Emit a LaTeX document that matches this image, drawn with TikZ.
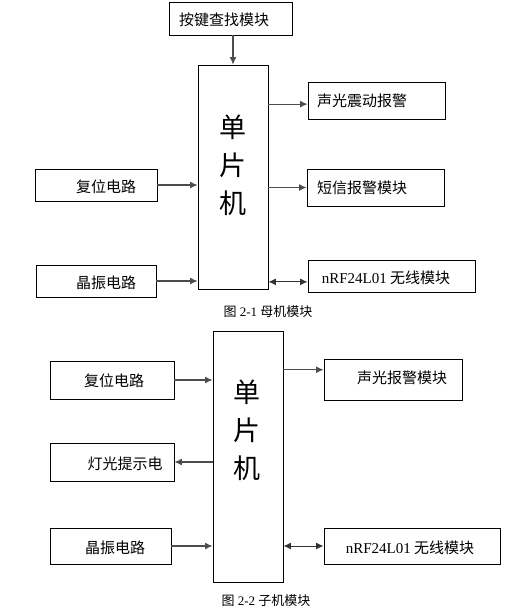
\documentclass[tikz,border=0pt]{standalone}
\usepackage{tikz}
\usepackage{xcolor}
\usepackage{fontspec}
\setmainfont{Liberation Serif}
\newfontfamily\cjk{Noto Sans CJK SC}
\usetikzlibrary{arrows.meta}

\tikzset{
  blk/.style={draw, line width=0.9pt, inner sep=0pt},
  txt/.style={inner sep=0pt, font=\fontsize{15}{18}\selectfont\cjk},
  mcutxt/.style={inner sep=0pt, align=center, font=\fontsize{27}{38}\selectfont\cjk},
  figcap/.style={inner sep=0pt, font=\fontsize{13}{15}\selectfont},
  arr/.style={draw=black!70, line width=1.2pt, -{Latex[length=7.5pt,width=7pt]}},
  darr/.style={draw=black!80, line width=1pt, {Latex[length=7.5pt,width=7pt]}-{Latex[length=7.5pt,width=7pt]}}
}

\begin{document}
\begin{tikzpicture}[x=1pt, y=-1pt]
  % Fix the page size
  \useasboundingbox (0,0) rectangle (528,616);

  % Draw the blocks of the main unit
  \node[blk, minimum width=123pt, minimum height=33pt] (keyA) at (230.5,18.5) {};
  \node[blk, minimum width=70pt, minimum height=224pt] (mcuA) at (233,177) {};
  \node[blk, minimum width=137pt, minimum height=37pt] (alarmA) at (376.5,100.5) {};
  \node[blk, minimum width=137pt, minimum height=37pt] (smsA) at (375.5,187.5) {};
  \node[blk, minimum width=122pt, minimum height=32pt] (rstA) at (96,185) {};
  \node[blk, minimum width=120pt, minimum height=32pt] (xtalA) at (96,281) {};
  \node[blk, minimum width=167pt, minimum height=32pt] (rfA) at (391.5,276) {};

  % Texts of the main unit
  \node[txt] (keyAt) at (224,20) {按键查找模块};
  \node[mcutxt] (mcuAt) at (233,165) {单\\片\\机};
  \node[txt] (alarmAt) at (362,101) {声光震动报警};
  \node[txt] (smsAt) at (362,188) {短信报警模块};
  \node[txt] (rstAt) at (106,187) {复位电路};
  \node[txt] (xtalAt) at (106,283) {晶振电路};
  \node[txt] (rfAt) at (386,278) {{\rmfamily nRF24L01} 无线模块};
  \node[figcap] (capA) at (268,312) {{\cjk 图} 2-1 {\cjk 母机模块}};

  % Connect the main unit
  \draw[arr] (keyA.south -| mcuA.north) -- (mcuA.north);
  \draw[arr] (mcuA.east |- alarmA.183) -- (alarmA.183);
  \draw[arr] (mcuA.east |- smsA.west) -- (smsA.west);
  \draw[arr] (rstA.east) -- (mcuA.west |- rstA.east);
  \draw[arr] (xtalA.east) -- (mcuA.west |- xtalA.east);
  \draw[darr] (mcuA.east |- rfA.184) -- (rfA.184);

  % Draw the blocks of the sub unit
  \node[blk, minimum width=70pt, minimum height=251pt] (mcuB) at (248,456.5) {};
  \node[blk, minimum width=124pt, minimum height=38pt] (rstB) at (112,380) {};
  \node[blk, minimum width=124pt, minimum height=38pt] (lampB) at (112,462) {};
  \node[blk, minimum width=121pt, minimum height=36pt] (xtalB) at (110.5,546) {};
  \node[blk, minimum width=138pt, minimum height=41pt] (alarmB) at (393,379.5) {};
  \node[blk, minimum width=176pt, minimum height=36pt] (rfB) at (412,546) {};

  % Texts of the sub unit
  \node[mcutxt] (mcuBt) at (247,430) {单\\片\\机};
  \node[txt] (rstBt) at (114,381) {复位电路};
  \node[txt] (lampBt) at (125,464) {灯光提示电};
  \node[txt] (xtalBt) at (115,548) {晶振电路};
  \node[txt] (alarmBt) at (402,378) {声光报警模块};
  \node[txt] (rfBt) at (410,548) {{\rmfamily nRF24L01} 无线模块};
  \node[figcap] (capB) at (266,601) {{\cjk 图} 2-2 {\cjk 子机模块}};

  % Connect the sub unit
  \draw[arr] (rstB.east) -- (mcuB.west |- rstB.east);
  \draw[arr] (mcuB.west |- lampB.east) -- (lampB.east);
  \draw[arr] (xtalB.east) -- (mcuB.west |- xtalB.east);
  \draw[arr] (mcuB.east |- alarmB.172) -- (alarmB.172);
  \draw[darr] (mcuB.east |- rfB.west) -- (rfB.west);
\end{tikzpicture}
\end{document}
